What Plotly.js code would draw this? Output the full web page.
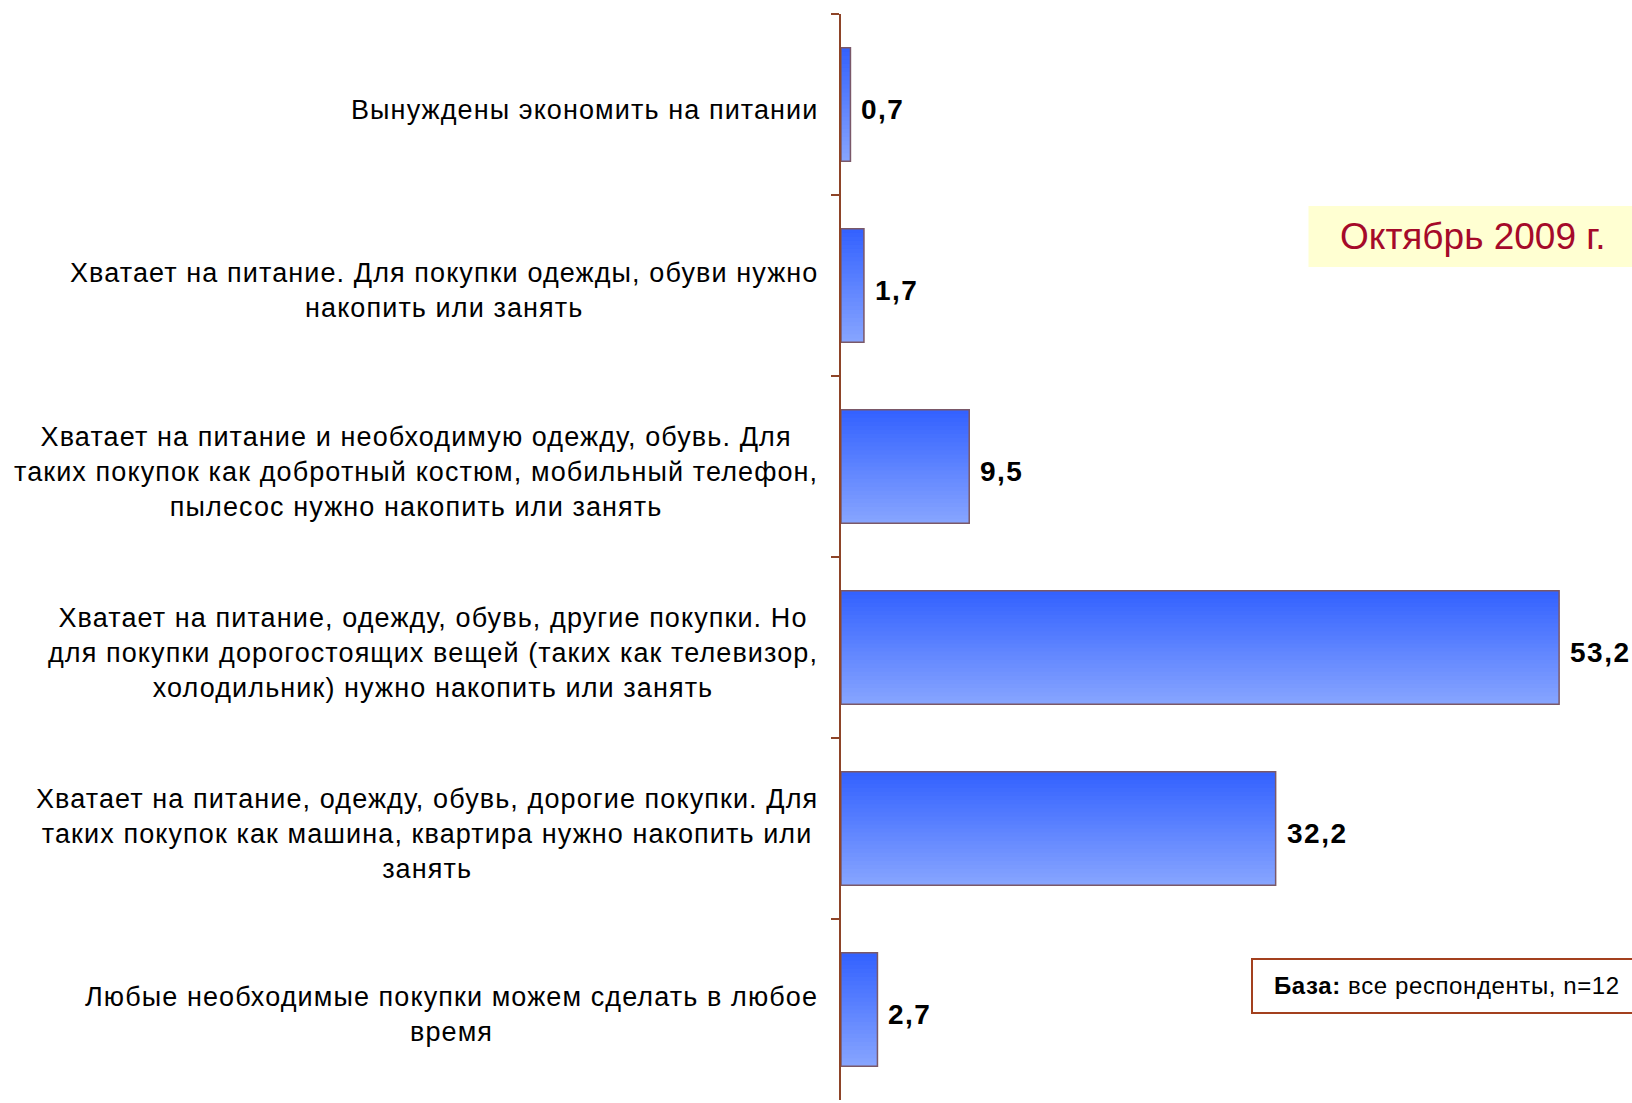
<!DOCTYPE html>
<html>
<head>
<meta charset="utf-8">
<script src="https://cdn.plot.ly/plotly-3.0.1.min.js"></script>
<style>
html,body{margin:0;padding:0;background:#fff;}
#chart{width:1632px;height:1103px;}
.annotation-text{letter-spacing:1.1px;}
</style>
</head>
<body>
<div id="chart"></div>
<script>
// ---- data ----
const categories = [
  "Вынуждены экономить на питании",
  "Хватает на питание. Для покупки одежды, обуви нужно<br>накопить или занять",
  "Хватает на питание и необходимую одежду, обувь. Для<br>таких покупок как добротный костюм, мобильный телефон,<br>пылесос нужно накопить или занять",
  "Хватает на питание, одежду, обувь, другие покупки. Но<br>для покупки дорогостоящих вещей (таких как телевизор,<br>холодильник) нужно накопить или занять",
  "Хватает на питание, одежду, обувь, дорогие покупки. Для<br>таких покупок как машина, квартира нужно накопить или<br>занять",
  "Любые необходимые покупки можем сделать в любое<br>время"
];
const values = [0.7, 1.7, 9.5, 53.2, 32.2, 2.7];
const periodLabel = "Октябрь 2009 г.";
const baseLabelBold = "База:";
const baseLabelText = " все респонденты, n=12";

// ---- styling ----
const FONT = "Liberation Sans, Arial, sans-serif";
const BAR_W = 0.628;
const N = 28;
const topC = [52, 98, 255], botC = [134, 164, 255];
const step = BAR_W / N;

const traces = [];
for (let k = 0; k < N; k++) {
  const t = k / (N - 1);
  const c = topC.map((a, i) => Math.round(a + (botC[i] - a) * t));
  traces.push({
    type: 'bar', orientation: 'h',
    x: values, y: categories,
    offset: -BAR_W / 2 + k * step,
    width: k < N - 1 ? step * 1.6 : step,
    marker: {color: `rgb(${c[0]},${c[1]},${c[2]})`, line: {width: 0}},
    hoverinfo: 'skip', showlegend: false
  });
}
// outline
traces.push({
  type: 'bar', orientation: 'h',
  x: values, y: categories,
  width: BAR_W,
  marker: {color: 'rgba(0,0,0,0)', line: {color: '#7A5868', width: 1.5}},
  hoverinfo: 'skip', showlegend: false
});

const annotations = [];
categories.forEach((cat, i) => {
  annotations.push({
    xref: 'x', yref: 'y', x: 0, y: cat,
    xanchor: 'right', yanchor: 'middle', xshift: -21, yshift: -5,
    align: 'center', showarrow: false, text: cat,
    font: {family: FONT, size: 27, color: '#000'}
  });
  annotations.push({
    xref: 'x', yref: 'y', x: values[i], y: cat,
    xanchor: 'left', yanchor: 'middle', xshift: 9, yshift: -5,
    showarrow: false, text: '<span style="letter-spacing:1.5px"><b>' + values[i].toFixed(1).replace('.', ',') + '</b></span>',
    font: {family: FONT, size: 28, color: '#000'}
  });
});
annotations.push({
  xref: 'paper', yref: 'paper', x: 0.7986, y: 0.7951,
  xanchor: 'center', yanchor: 'middle', showarrow: false,
  text: '<span style="letter-spacing:0px">' + periodLabel + '</span>',
  font: {family: FONT, size: 37, color: '#A50A2A'}
});
annotations.push({
  xref: 'paper', yref: 'paper', x: 0.5445, y: 0.1050,
  xanchor: 'left', yanchor: 'middle', showarrow: false,
  text: '<span style="letter-spacing:0.6px"><b>' + baseLabelBold + '</b>' + baseLabelText + '</span>',
  font: {family: FONT, size: 24, color: '#000'}
});

const layout = {
  width: 1632, height: 1103,
  margin: {l: 841, r: 0, t: 14, b: 3},
  paper_bgcolor: '#fff', plot_bgcolor: 'rgba(0,0,0,0)',
  barmode: 'overlay',
  showlegend: false,
  xaxis: {range: [0, 58.6], visible: false, showgrid: false, zeroline: false, fixedrange: true},
  yaxis: {
    type: 'category', range: [5.5, -0.5],
    showticklabels: false, showgrid: false, zeroline: false,
    showline: true, linecolor: '#8E4428', linewidth: 2,
    ticks: 'outside', ticklen: 8, tickwidth: 2, tickcolor: '#8E4428',
    tickson: 'boundaries', fixedrange: true
  },
  shapes: [
    {type: 'rect', xref: 'paper', yref: 'paper', x0: 0.5910, x1: 1.02, y0: 0.7670, y1: 0.8232,
     fillcolor: '#FFFFD2', line: {width: 0}, layer: 'below'},
    {type: 'rect', xref: 'paper', yref: 'paper', x0: 0.5196, x1: 1.05, y0: 0.0801, y1: 0.1298,
     fillcolor: '#FFFFFF', line: {color: '#A3401E', width: 2}, layer: 'below'}
  ],
  annotations: annotations,
  font: {family: FONT}
};

Plotly.newPlot('chart', traces, layout, {displayModeBar: false, staticPlot: true});
</script>
</body>
</html>
